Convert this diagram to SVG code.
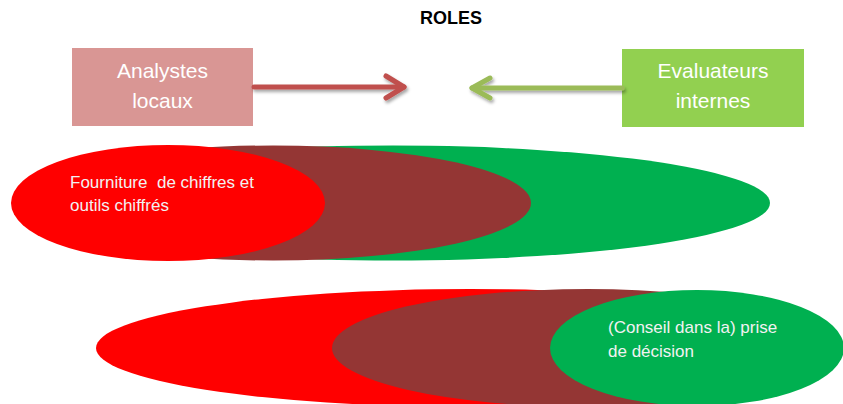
<svg xmlns="http://www.w3.org/2000/svg" width="843" height="404" viewBox="0 0 843 404">
  <style>
    .title { font-family: "Liberation Sans", Arial, sans-serif; font-weight: bold; font-size: 18px; fill: #000000; }
    .boxtxt { font-family: "Liberation Sans", Arial, sans-serif; font-size: 21px; fill: #FFFFFF; }
    .elltxt { font-family: "Liberation Sans", Arial, sans-serif; font-size: 17px; fill: #F2F2F2; }
    .red { fill: #FF0000; }
    .brown { fill: #943634; }
    .green { fill: #00B050; }
  </style>
  <defs>
    <filter id="shadow" x="-10%" y="-50%" width="130%" height="250%">
      <feDropShadow dx="1.5" dy="2.5" stdDeviation="1.5" flood-color="#000000" flood-opacity="0.35"/>
    </filter>
  </defs>
  <rect width="843" height="404" fill="#FFFFFF"/>

  <text class="title" x="451" y="24" text-anchor="middle">ROLES</text>

  <g id="analystes-locaux">
    <rect x="72" y="48" width="181" height="78" fill="#D99694"/>
    <text class="boxtxt" x="162.5" y="78" text-anchor="middle">Analystes</text>
    <text class="boxtxt" x="162.5" y="108" text-anchor="middle">locaux</text>
  </g>

  <g id="evaluateurs-internes">
    <rect x="622" y="49" width="182" height="78" fill="#92D050"/>
    <text class="boxtxt" x="713" y="78" text-anchor="middle">Evaluateurs</text>
    <text class="boxtxt" x="713" y="108" text-anchor="middle">internes</text>
  </g>

  <g id="connectors" fill="none" stroke-linecap="round" stroke-linejoin="round" filter="url(#shadow)">
    <g stroke="#C0504D" stroke-width="5">
      <line x1="254" y1="87" x2="404" y2="87"/>
      <polyline points="386,76 404,87 386,98"/>
    </g>
    <g stroke="#9BBB59" stroke-width="5">
      <line x1="622" y1="88" x2="472" y2="88"/>
      <polyline points="490,78 472,88 490,98"/>
    </g>
  </g>

  <g id="role-fourniture">
    <ellipse class="green" cx="393" cy="203" rx="377" ry="57.5"/>
    <ellipse class="brown" cx="273" cy="203" rx="258" ry="57.5"/>
    <ellipse class="red" cx="168" cy="203" rx="157" ry="58"/>
    <text class="elltxt" x="70" y="188" xml:space="preserve">Fourniture  de chiffres et</text>
    <text class="elltxt" x="70" y="211">outils chiffrés</text>
  </g>

  <g id="role-decision">
    <ellipse class="red" cx="470" cy="348" rx="374" ry="59"/>
    <ellipse class="brown" cx="588" cy="348" rx="256" ry="59"/>
    <ellipse class="green" cx="697" cy="348" rx="147" ry="58"/>
    <text class="elltxt" x="608" y="333">(Conseil dans la) prise</text>
    <text class="elltxt" x="608" y="357">de décision</text>
  </g>
</svg>
